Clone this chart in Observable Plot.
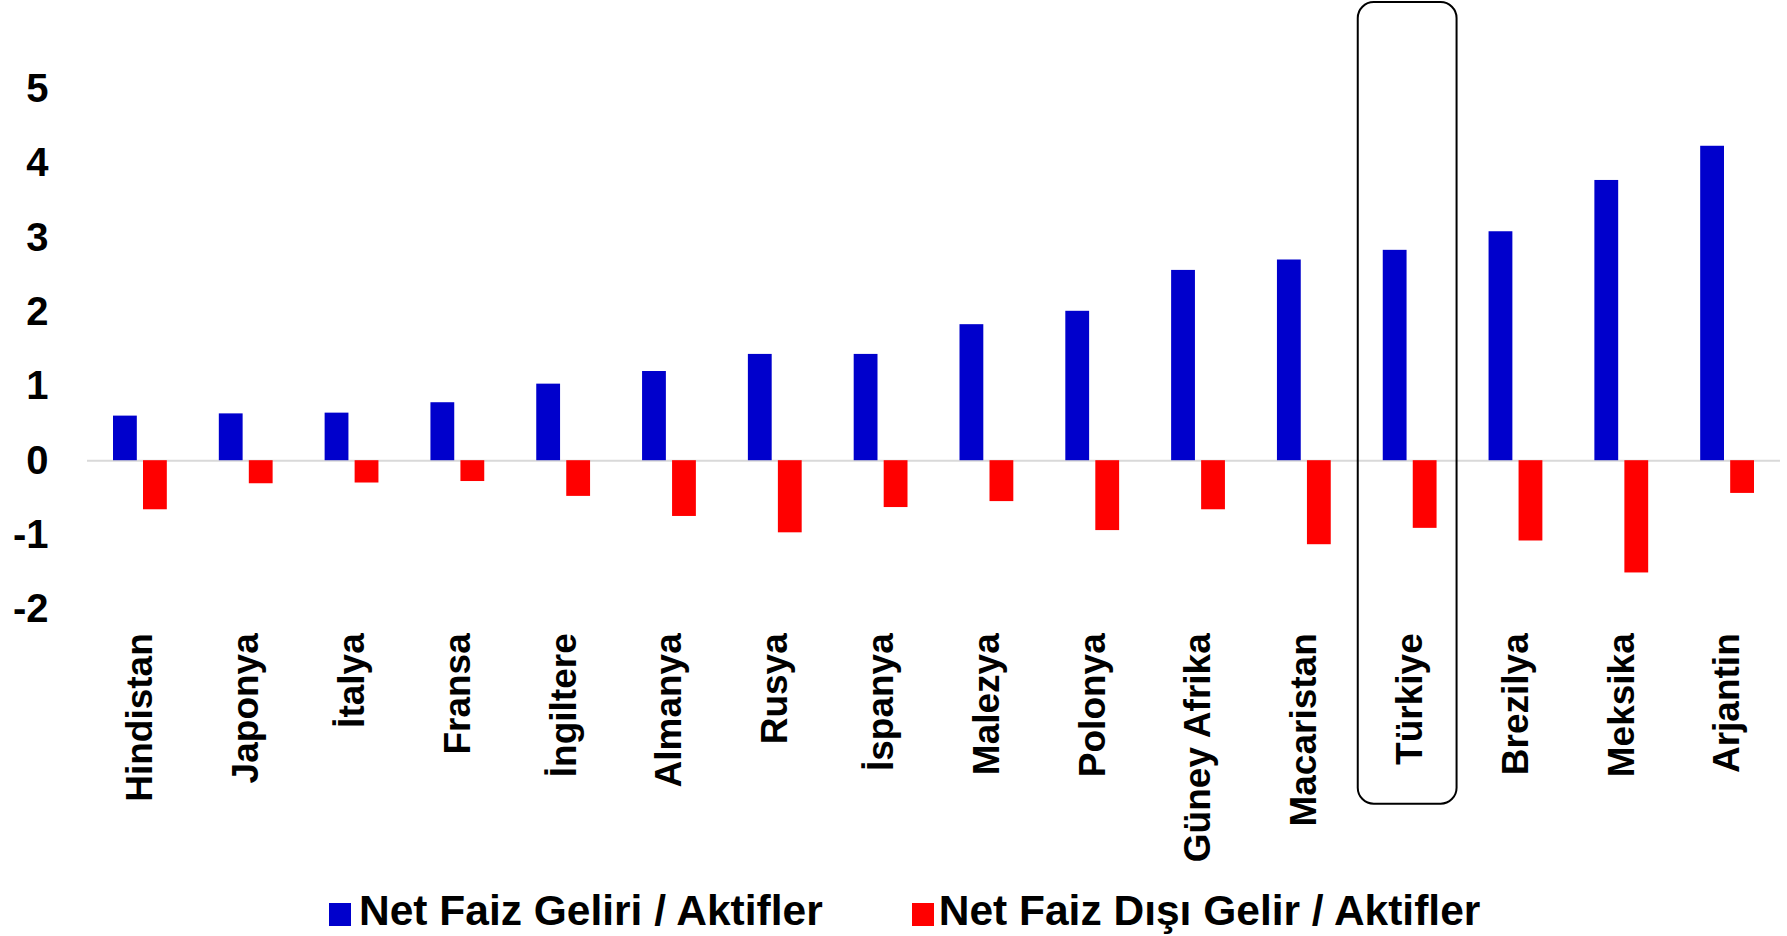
<!DOCTYPE html>
<html><head><meta charset="utf-8">
<script src="https://cdn.jsdelivr.net/npm/d3@7"></script>
<script src="https://cdn.jsdelivr.net/npm/@observablehq/plot@0.6"></script>
<style>
body{margin:0;background:#fff;color:#000;font-family:"Liberation Sans",Arial,sans-serif;}
#wrap{position:relative;width:1787px;height:936px;overflow:hidden;}
#legend{position:absolute;left:329px;top:892px;display:flex;align-items:center;font-weight:bold;font-size:42.5px;white-space:nowrap;line-height:0.9;}
.item{display:flex;align-items:center;}
.item + .item{margin-left:89px;}
.sw{width:22px;height:23px;display:inline-block;margin-right:8px;margin-top:6px;}
.item + .item .sw{margin-right:5px;}
</style></head><body><div id="wrap"><div id="chart"></div><div id="legend"></div></div>
<script>
const countries = ["Hindistan","Japonya","İtalya","Fransa","İngiltere","Almanya","Rusya","İspanya","Malezya","Polonya","Güney Afrika","Macaristan","Türkiye","Brezilya","Meksika","Arjantin"];
const netFaizGeliri = [0.60, 0.63, 0.64, 0.78, 1.03, 1.20, 1.43, 1.43, 1.83, 2.01, 2.56, 2.70, 2.83, 3.08, 3.77, 4.23];
const netFaizDisiGelir = [-0.66, -0.31, -0.30, -0.28, -0.48, -0.75, -0.97, -0.63, -0.55, -0.94, -0.66, -1.13, -0.91, -1.08, -1.51, -0.44];
const seriesNames = ["Net Faiz Geliri / Aktifler", "Net Faiz Dışı Gelir / Aktifler"];
const seriesColors = ["#0000CC", "#FF0000"];
const yTicks = [-2, -1, 0, 1, 2, 3, 4, 5];
const highlightCountry = "Türkiye";
const highlightSpan = [6.164, -4.62];

const rows = countries.map((c, i) => ({country: c, nfg: netFaizGeliri[i], nfdg: netFaizDisiGelir[i]}));
const H = 872;
const chart = Plot.plot({
  width: 1787, height: H,
  marginLeft: 87, marginRight: 7, marginTop: 2, marginBottom: H - 623.75,
  x: {domain: countries, padding: 0, round: false, label: null},
  y: {domain: [-2.2, 6.164], label: null},
  style: {fontFamily: '"Liberation Sans", Arial, sans-serif', background: "white", color: "black", overflow: "visible"},
  marks: [
    Plot.ruleY([0], {stroke: "#d9d9d9", strokeWidth: 2}),
    Plot.barY(rows, {x: "country", y: "nfg", fill: seriesColors[0], insetLeft: 26, insetRight: 56}),
    Plot.barY(rows, {x: "country", y: "nfdg", fill: seriesColors[1], insetLeft: 56, insetRight: 26}),
    Plot.barY([highlightCountry], {x: d => d, y1: highlightSpan[0], y2: highlightSpan[1], fill: "none", stroke: "black", strokeWidth: 2, rx: 16, insetLeft: 1, insetRight: 6}),
    Plot.axisY({ticks: yTicks, tickSize: 0, tickPadding: 39, fontSize: 40, fontWeight: "bold", tickFormat: d => String(d), label: null}),
    Plot.axisX({tickSize: 0, tickPadding: 9, tickRotate: -90, fontSize: 37, fontWeight: "bold", label: null})
  ]
});
document.getElementById("chart").appendChild(chart);

const legend = document.getElementById("legend");
seriesNames.forEach((name, i) => {
  const it = document.createElement("div");
  it.className = "item";
  const sw = document.createElement("span");
  sw.className = "sw";
  sw.style.background = seriesColors[i];
  const tx = document.createElement("span");
  tx.textContent = name;
  it.appendChild(sw); it.appendChild(tx);
  legend.appendChild(it);
});
</script></body></html>
